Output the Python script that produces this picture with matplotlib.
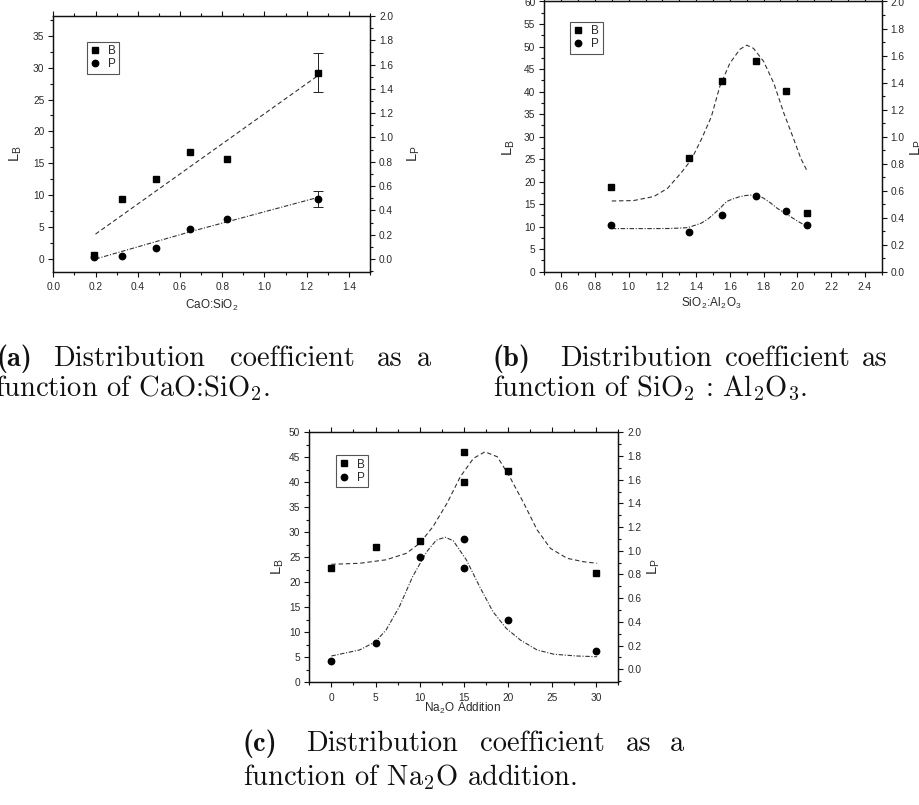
import numpy as np
import matplotlib
matplotlib.use('Agg')
import matplotlib.pyplot as plt
from matplotlib.ticker import MultipleLocator, FormatStrFormatter

plt.rcParams['font.family'] = ['Liberation Sans', 'DejaVu Sans']
plt.rcParams['mathtext.fontset'] = 'cm'

# ---- (a) CaO:SiO2 ----
a_x = [0.192, 0.326, 0.486, 0.646, 0.825, 1.253]
a_b = [0.6, 9.35, 12.6, 16.8, 15.6, 29.2]
a_p = [0.014, 0.027, 0.088, 0.249, 0.328, 0.495]
a_b_err = 3.1
a_p_err = 0.066
a_fit_b_x = [0.2, 1.26]
a_fit_b_y = [3.9, 28.9]
a_fit_p_x = [0.2, 0.65, 1.26]
a_fit_p_y = [0.0, 0.225, 0.51]

# ---- (b) SiO2:Al2O3 ----
b_x = [0.895, 1.355, 1.555, 1.755, 1.93, 2.055]
b_b = [18.7, 25.2, 42.3, 46.8, 40.2, 13.0]
b_p = [0.346, 0.294, 0.418, 0.561, 0.452, 0.346]
b_fit_b_x = [0.90, 1.03, 1.15, 1.23, 1.31, 1.37, 1.43, 1.49, 1.54, 1.60,
             1.66, 1.70, 1.74, 1.80, 1.86, 1.92, 1.98, 2.02, 2.06]
b_fit_b_y = [15.7, 15.8, 16.7, 18.5, 21.9, 24.8, 29.3, 34.4, 41.1, 46.3,
             49.4, 50.3, 49.6, 46.7, 41.9, 35.2, 29.3, 25.2, 22.2]
b_fit_p_x = [0.90, 1.00, 1.15, 1.25, 1.35, 1.43, 1.47, 1.51, 1.55, 1.58,
             1.62, 1.66, 1.70, 1.74, 1.77, 1.80, 1.84, 1.88, 1.92, 1.96, 2.00, 2.06]
b_fit_p_y = [0.319, 0.319, 0.319, 0.320, 0.326, 0.359, 0.39, 0.433, 0.48, 0.519,
             0.54, 0.556, 0.565, 0.568, 0.562, 0.544, 0.51, 0.470, 0.438, 0.407, 0.375, 0.333]

# ---- (c) Na2O addition ----
c_x = [0, 5, 10, 15, 15, 20, 30]
c_b = [22.8, 27.0, 28.3, 46.0, 40.1, 42.3, 21.9]
c_p = [0.070, 0.224, 0.950, 1.097, 0.857, 0.416, 0.157]
c_fit_b_x = [0.0, 3.2, 6.2, 8.5, 10.0, 11.5, 13.1, 14.6, 16.1, 17.4, 18.8,
             20.2, 21.8, 23.3, 24.8, 26.7, 28.6, 30.1]
c_fit_b_y = [23.6, 23.8, 24.5, 25.8, 27.8, 31.1, 35.8, 41.1, 44.8, 46.1, 45.1,
             41.1, 35.8, 30.5, 26.8, 24.8, 24.1, 23.8]
c_fit_p_x = [0.0, 3.2, 5.0, 6.2, 7.7, 9.2, 10.8, 11.9, 12.9, 13.8, 15.3, 16.8,
             18.3, 19.8, 21.4, 23.3, 25.2, 27.8, 30.1]
c_fit_p_y = [0.112, 0.163, 0.233, 0.332, 0.528, 0.781, 0.992, 1.091, 1.114, 1.085,
             0.922, 0.697, 0.486, 0.346, 0.247, 0.163, 0.127, 0.112, 0.106]

W, H = 920, 805
fig = plt.figure(figsize=(W / 100, H / 100), dpi=100)

TXT = '#2a2a2a'
LINE = '#333333'


def rect(l, t, r, b):
    return [l / W, 1 - b / H, (r - l) / W, (b - t) / H]


def panel(box, xlim, xstep, ylim, y2lim, xlabel, xl_pos, yl_pos, y2l_pos):
    ax = fig.add_axes(rect(*box))
    ax2 = ax.twinx()
    ax.set_xlim(xlim)
    ax.set_ylim(ylim)
    ax2.set_ylim(y2lim)
    ax.xaxis.set_major_locator(MultipleLocator(xstep))
    ax.xaxis.set_minor_locator(MultipleLocator(xstep / 2))
    ax.yaxis.set_major_locator(MultipleLocator(5))
    ax.yaxis.set_minor_locator(MultipleLocator(2.5))
    ax2.yaxis.set_major_locator(MultipleLocator(0.2))
    ax2.yaxis.set_minor_locator(MultipleLocator(0.1))
    ax.xaxis.set_major_formatter(FormatStrFormatter('%.1f' if xstep < 1 else '%d'))
    ax2.yaxis.set_major_formatter(FormatStrFormatter('%.1f'))
    for a in (ax, ax2):
        for s in a.spines.values():
            s.set_linewidth(0.9)
            s.set_color('#111111')
        a.tick_params(which='both', direction='out', width=0.8, colors='#111111',
                      labelcolor=TXT, labelsize=7.3, pad=3)
        a.tick_params(which='major', length=3.5)
        a.tick_params(which='minor', length=2)
    ax.tick_params(axis='x', which='both', top=True, pad=4)
    ax.text(xl_pos[0], xl_pos[1], xlabel, transform=ax.transAxes, ha='center', va='center',
            fontsize=8.5, color=TXT)
    ax.text(yl_pos[0], yl_pos[1], r'L$_\mathregular{B}$', transform=ax.transAxes, ha='center',
            va='center', rotation=90, fontsize=10.5, color=TXT)
    ax2.text(y2l_pos[0], y2l_pos[1], r'L$_\mathregular{P}$', transform=ax.transAxes, ha='center',
             va='center', rotation=90, fontsize=10.5, color=TXT)
    return ax, ax2


def draw(ax, ax2, x, yb, yp, fbx, fby, fpx, fpy, leg_pos):
    hb, = ax.plot(x, yb, 's', color='black', markersize=4.3, label='B', zorder=4)
    hp, = ax2.plot(x, yp, 'o', color='black', markersize=4.6, label='P', zorder=4)
    ax.plot(fbx, fby, color=LINE, lw=0.8, dashes=(4, 2.5))
    ax2.plot(fpx, fpy, color=LINE, lw=0.8, dashes=(4, 1.5, 1, 1.5))
    leg = ax2.legend([hb, hp], ['B', 'P'], loc='upper left', bbox_to_anchor=leg_pos,
                     fontsize=8.5, numpoints=1, handlelength=0.8, handletextpad=0.7,
                     labelspacing=0.1, borderpad=0.3, borderaxespad=0, fancybox=False,
                     framealpha=1, edgecolor='#555555')
    leg.get_frame().set_linewidth(0.8)
    for t in leg.get_texts():
        t.set_color(TXT)


# panel (a)
ax, ax2 = panel((53.3, 16, 370, 272), (0, 1.5), 0.2, (-2.04, 38.09), (-0.107, 2.0),
                r'CaO:SiO$_\mathregular{2}$', (0.501, -0.13), (-0.12, 0.465), (1.138, 0.465))
draw(ax, ax2, a_x, a_b, a_p, a_fit_b_x, a_fit_b_y, a_fit_p_x, a_fit_p_y, (0.105, 0.9))
ax.errorbar(a_x[-1:], a_b[-1:], yerr=a_b_err, fmt='none', ecolor='#222222', elinewidth=0.7,
            capsize=3.5, capthick=0.7)
ax2.errorbar(a_x[-1:], a_p[-1:], yerr=a_p_err, fmt='none', ecolor='#222222', elinewidth=0.7,
             capsize=3.5, capthick=0.7)

# panel (b)
ax, ax2 = panel((544.3, 1.5, 881.7, 271.7), (0.5, 2.5), 0.2, (0, 60), (0, 2.0),
                r'SiO$_\mathregular{2}$:Al$_\mathregular{2}$O$_\mathregular{3}$',
                (0.496, -0.118), (-0.105, 0.461), (1.104, 0.461))
draw(ax, ax2, b_x, b_b, b_p, b_fit_b_x, b_fit_b_y, b_fit_p_x, b_fit_p_y, (0.076, 0.925))

# panel (c)
ax, ax2 = panel((309.3, 432.3, 618.3, 682.3), (-2.5, 32.5), 5, (0, 50), (-0.11, 2.0),
                r'Na$_\mathregular{2}$O Addition', (0.497, -0.105), (-0.102, 0.462), (1.115, 0.462))
draw(ax, ax2, c_x, c_b, c_p, c_fit_b_x, c_fit_b_y, c_fit_p_x, c_fit_p_y, (0.085, 0.909))

# captions (justified LaTeX-like lines, words placed separately)
CAP = 20.5


def words(items, y, bold_first=True):
    for i, (x, w) in enumerate(items):
        fam = 'cmb10' if (i == 0 and bold_first) else 'cmr10'
        fig.text(x / W, 1 - y / H, w, fontsize=CAP, family=fam, va='baseline', ha='left',
                 color='#111111')


words([(-4, '(a)'), (53, 'Distribution'), (230, 'coefficient'), (377, 'as'), (417, 'a')], 366)
words([(-5, r'function of CaO:SiO$_2$.')], 396, bold_first=False)
words([(493, '(b)'), (560, 'Distribution'), (725, 'coefficient'), (862, 'as')], 366)
words([(493, r'function of SiO$_2$ : Al$_2$O$_3$.')], 396, bold_first=False)
words([(243, '(c)'), (306, 'Distribution'), (480, 'coefficient'), (626, 'as'), (670, 'a')], 751)
words([(243, r'function of Na$_2$O addition.')], 785, bold_first=False)

fig.savefig('out.png', dpi=100)
